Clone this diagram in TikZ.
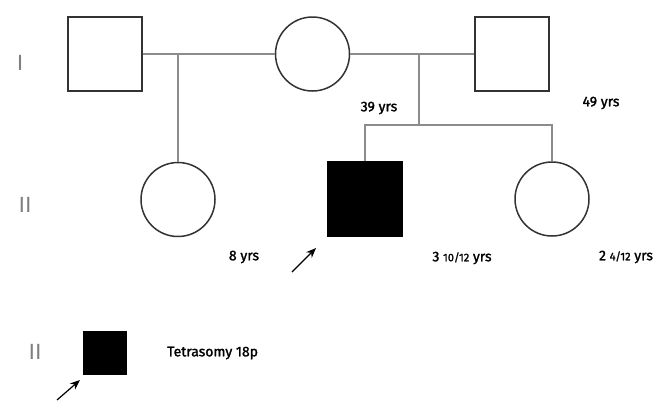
\documentclass[tikz,border=0pt]{standalone}
\usepackage{fontspec}
\setmainfont{Fira Sans}[RawFeature={embolden=1.6}]
\newfontfamily\genfont{Fira Sans}
\usetikzlibrary{arrows.meta}
\begin{document}
\begin{tikzpicture}[x=1pt,y=-1pt,
    male/.style={draw=black!80,line width=2pt,minimum size=74pt,inner sep=0pt},
    female/.style={circle,draw=black!80,line width=1.5pt,minimum size=74pt,inner sep=0pt},
    affected/.style={fill=black,draw=black},
    line/.style={draw=black!45,line width=1.3pt},
    age/.style={font=\fontsize{14}{16}\selectfont,inner sep=0pt},
    gen/.style={text=black!50,font=\genfont\fontsize{22}{24}\selectfont,inner sep=0pt},
    pointer/.style={-{Stealth[length=10pt,width=8pt]},line width=1.2pt}]
    \useasboundingbox (0,0) rectangle (664,400);

    % generation I
    \node[male] (fa) at (104.5,54) {};
    \node[female] (mo) at (312.5,54) {};
    \node[male] (fb) at (512,54) {};

    % generation II
    \node[female] (da) at (178,199.5) {};
    \node[male,affected] (pr) at (365,199) {};
    \node[female] (db) at (552,199) {};

    % marriages and sibships
    \draw[line] (fa) -- (mo);
    \draw[line] (mo) -- (fb);
    \coordinate (ca) at (178,54);
    \draw[line] (ca) -- (da);
    \coordinate (cb) at (419,54);
    \coordinate (sb) at (419,125);
    \draw[line] (cb) -- (sb);
    \draw[line] (pr.north) |- (sb) -| (db.north);

    % ages
    \node[age] (agemo) at (379,108) {39 yrs};
    \node[age] (agefb) at (601,103) {49 yrs};
    \node[age] (ageda) at (244,257) {8 yrs};
    \node[age] (agepr) at (462,258) {3 {\fontsize{11}{12}\selectfont 10/12} yrs};
    \node[age] (agedb) at (626,257) {2 {\fontsize{11}{12}\selectfont 4/12} yrs};

    % generation numbers
    \node[gen] (gi) at (20,63) {I};
    \node[gen] (gii) at (25,205) {II};

    % proband arrow
    \coordinate (ta) at (292,272);
    \coordinate (ha) at (316,248);
    \draw[pointer] (ta) -- (ha);

    % legend
    \node[gen] (giii) at (35,352) {II};
    \node[male,affected,minimum size=42pt] (lg) at (104.5,352.5) {};
    \node[age,anchor=west] (lgt) at (167,353) {Tetrasomy 18p};
    \coordinate (tb) at (57,400);
    \coordinate (hb) at (80,380);
    \draw[pointer] (tb) -- (hb);
\end{tikzpicture}
\end{document}
